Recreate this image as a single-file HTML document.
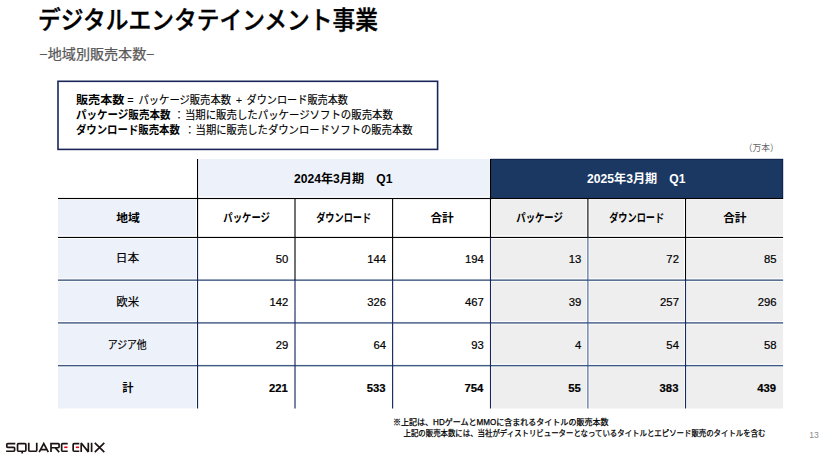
<!DOCTYPE html>
<html lang="ja"><head><meta charset="utf-8"><title>デジタルエンタテインメント事業 −地域別販売本数−</title><style>
html,body{margin:0;padding:0;background:#fff}
body{width:829px;height:463px;position:relative;overflow:hidden;font-family:"Liberation Sans",sans-serif;color:#000}
.abs{position:absolute;margin:0;padding:0}
svg.t{position:absolute;left:0;top:0;overflow:visible;display:block}
svg.t text{font-family:"Liberation Sans","Noto Sans CJK JP",sans-serif}
h1,h2{font-size:0;font-weight:normal}
.grid{position:absolute;left:0;top:0}
.cell{position:absolute;box-sizing:border-box}
path{vector-effect:non-scaling-stroke}
.num{font-size:11.3px;line-height:1;text-align:right;display:flex;align-items:center;justify-content:flex-end;padding-right:6.6px;padding-top:2.4px;-webkit-text-stroke:0.2px #000}
.num.b{font-weight:bold;padding-right:7.1px}
.pageno{font-size:8.6px;line-height:12px;color:#8c8c8c;text-align:center}
</style></head><body>

<h1 class="abs title" style="left:36px;top:0px;width:360px;height:40px"><svg class="t " viewBox="36 0 360 40" width="360" height="40" role="img" aria-label="デジタルエンタテインメント事業"><title>デジタルエンタテインメント事業</title><text x="38" y="28.6" style="font-size:25px;font-weight:500" fill="#000" stroke="#000" stroke-width="0.4" textLength="340" lengthAdjust="spacingAndGlyphs">デジタルエンタテインメント事業</text></svg></h1>
<h2 class="abs sub" style="left:36px;top:44px;width:130px;height:22px"><svg class="t " viewBox="36 44 130 22" width="130" height="22" role="img" aria-label="−地域別販売本数−"><title>−地域別販売本数−</title><text x="39.5" y="59.4" style="font-size:13.5px" fill="#595959" stroke="#595959" stroke-width="0.25" textLength="115" lengthAdjust="spacingAndGlyphs">−地域別販売本数−</text></svg></h2>
<div class="abs defbox" style="left:0.00px;top:0.00px;width:829.00px;height:463.00px"><svg class="t " viewBox="0 0 829 463" width="829" height="463" role="img" aria-label="販売本数＝パッケージ販売本数＋ダウンロード販売本数 / パッケージ販売本数：当期に販売したパッケージソフトの販売本数 / ダウンロード販売本数：当期に販売したダウンロードソフトの販売本数"><title>販売本数＝パッケージ販売本数＋ダウンロード販売本数 / パッケージ販売本数：当期に販売したパッケージソフトの販売本数 / ダウンロード販売本数：当期に販売したダウンロードソフトの販売本数</title><rect x="58.00" y="81.30" width="379.60" height="68.10" fill="none" stroke="#1a265a" stroke-width="1.60"/>
<text x="75.9" y="104.39" font-size="11.5" font-weight="bold" fill="#000" textLength="48.5" lengthAdjust="spacingAndGlyphs">販売本数</text>
<text x="127.3" y="104.39" font-size="11" fill="#000">=</text>
<text x="138.5" y="104.39" font-size="11" fill="#000" stroke="#000" stroke-width="0.15" textLength="92.5" lengthAdjust="spacingAndGlyphs">パッケージ販売本数</text>
<text x="235.8" y="104.39" font-size="11" fill="#000">+</text>
<text x="246.5" y="104.39" font-size="11" fill="#000" stroke="#000" stroke-width="0.15" textLength="101.5" lengthAdjust="spacingAndGlyphs">ダウンロード販売本数</text>
<text x="75.9" y="119.28" font-size="11.5" font-weight="bold" fill="#000" textLength="94.6" lengthAdjust="spacingAndGlyphs">パッケージ販売本数</text>
<text x="173.5" y="119.28" font-size="11" fill="#000">：</text>
<text x="184.9" y="119.28" font-size="11" fill="#000" stroke="#000" stroke-width="0.15" textLength="208" lengthAdjust="spacingAndGlyphs">当期に販売したパッケージソフトの販売本数</text>
<text x="75.9" y="134.48" font-size="11.5" font-weight="bold" fill="#000" textLength="104" lengthAdjust="spacingAndGlyphs">ダウンロード販売本数</text>
<text x="184.3" y="134.48" font-size="11" fill="#000">：</text>
<text x="195.6" y="134.48" font-size="11" fill="#000" stroke="#000" stroke-width="0.15" textLength="217" lengthAdjust="spacingAndGlyphs">当期に販売したダウンロードソフトの販売本数</text>
</svg></div>
<div class="abs unit" style="left:740px;top:141px;width:44px;height:14px"><svg class="t " viewBox="740 141 44 14" width="44" height="14" role="img" aria-label="（万本）"><title>（万本）</title><text x="743.7" y="150.87" font-size="9" fill="#666" textLength="35" lengthAdjust="spacingAndGlyphs">（万本）</text></svg></div>
<div class="abs table" style="left:0;top:0;width:829px;height:463px">
<svg class="grid" viewBox="0 0 829 463" width="829" height="463"><rect x="199.05" y="159.00" width="289.95" height="37.60" fill="#edf2fa"/><rect x="490.50" y="159.00" width="292.60" height="39.50" fill="#1b3862"/><rect x="490.50" y="158.80" width="292.60" height="0.80" fill="#0b1d49"/><rect x="782.30" y="159.00" width="0.80" height="39.50" fill="#0b1d49"/><rect x="58.00" y="200.00" width="138.05" height="35.55" fill="#edf2fa"/><rect x="58.00" y="238.95" width="138.05" height="39.30" fill="#edf2fa"/><rect x="58.00" y="281.65" width="138.05" height="39.35" fill="#edf2fa"/><rect x="58.00" y="324.40" width="138.05" height="39.35" fill="#edf2fa"/><rect x="58.00" y="367.15" width="138.05" height="41.35" fill="#edf2fa"/><rect x="492.00" y="200.00" width="94.40" height="35.55" fill="#eeeeee"/><rect x="589.40" y="200.00" width="94.65" height="35.55" fill="#eeeeee"/><rect x="687.05" y="200.00" width="96.05" height="35.55" fill="#eeeeee"/><rect x="492.00" y="238.95" width="94.40" height="39.30" fill="#eeeeee"/><rect x="589.40" y="238.95" width="94.65" height="39.30" fill="#eeeeee"/><rect x="687.05" y="238.95" width="96.05" height="39.30" fill="#eeeeee"/><rect x="492.00" y="281.65" width="94.40" height="39.35" fill="#eeeeee"/><rect x="589.40" y="281.65" width="94.65" height="39.35" fill="#eeeeee"/><rect x="687.05" y="281.65" width="96.05" height="39.35" fill="#eeeeee"/><rect x="492.00" y="324.40" width="94.40" height="39.35" fill="#eeeeee"/><rect x="589.40" y="324.40" width="94.65" height="39.35" fill="#eeeeee"/><rect x="687.05" y="324.40" width="96.05" height="39.35" fill="#eeeeee"/><rect x="492.00" y="367.15" width="94.40" height="41.35" fill="#eeeeee"/><rect x="589.40" y="367.15" width="94.65" height="41.35" fill="#eeeeee"/><rect x="687.05" y="367.15" width="96.05" height="41.35" fill="#eeeeee"/><rect x="58.00" y="197.95" width="725.10" height="1.10" fill="#000"/><rect x="58.00" y="236.90" width="725.10" height="1.10" fill="#000"/><rect x="58.00" y="279.45" width="725.10" height="1.40" fill="#3f5980"/><rect x="58.00" y="322.20" width="725.10" height="1.40" fill="#3f5980"/><rect x="58.00" y="364.95" width="725.10" height="1.40" fill="#3f5980"/><rect x="197.00" y="159.00" width="1.10" height="78.45" fill="#000"/><rect x="197.00" y="237.45" width="1.10" height="171.05" fill="#16245c"/><rect x="294.45" y="198.50" width="1.10" height="81.65" fill="#000"/><rect x="294.43" y="280.15" width="1.15" height="128.35" fill="#172b5e"/><rect x="392.05" y="198.50" width="1.10" height="81.65" fill="#000"/><rect x="392.03" y="280.15" width="1.15" height="128.35" fill="#172b5e"/><rect x="489.95" y="159.00" width="1.10" height="78.45" fill="#000"/><rect x="489.95" y="237.45" width="1.10" height="171.05" fill="#16245c"/><rect x="587.35" y="198.50" width="1.10" height="38.95" fill="#000"/><rect x="587.35" y="237.45" width="1.10" height="171.05" fill="#3f5f90"/><rect x="685.00" y="198.50" width="1.10" height="81.65" fill="#000"/><rect x="684.97" y="280.15" width="1.15" height="128.35" fill="#172b5e"/></svg>
<div class="cell th" style="left:197.55px;top:159.00px;width:292.95px;height:39.50px"><svg class="t " viewBox="197.55 159 292.95 39.5" width="292.95" height="39.5" role="img" aria-label="2024年3月期　Q1"><title>2024年3月期　Q1</title><text x="293.5" y="182.63" font-size="12" font-weight="bold" fill="#000" textLength="98.5" lengthAdjust="spacingAndGlyphs">2024年3月期　Q1</text></svg></div>
<div class="cell th" style="left:490.50px;top:159.00px;width:292.60px;height:39.50px"><svg class="t " viewBox="490.5 159 292.6 39.5" width="292.6" height="39.5" role="img" aria-label="2025年3月期　Q1"><title>2025年3月期　Q1</title><text x="586.5" y="182.63" font-size="12" font-weight="bold" fill="#fff" textLength="98.5" lengthAdjust="spacingAndGlyphs">2025年3月期　Q1</text></svg></div>
<div class="cell th" style="left:58.00px;top:198.50px;width:139.55px;height:38.95px"><svg class="t " viewBox="58 198.5 139.55 38.95" width="139.55" height="38.95" role="img" aria-label="地域"><title>地域</title><text x="116.25" y="221.84" font-size="11.7" font-weight="bold" fill="#000" textLength="23.6" lengthAdjust="spacingAndGlyphs">地域</text></svg></div>
<div class="cell th" style="left:197.55px;top:198.50px;width:97.45px;height:38.95px"><svg class="t " viewBox="197.55 198.5 97.45 38.95" width="97.45" height="38.95" role="img" aria-label="パッケージ"><title>パッケージ</title><text x="222.9" y="221.84" font-size="11.7" font-weight="bold" fill="#000" textLength="46.6" lengthAdjust="spacingAndGlyphs">パッケージ</text></svg></div>
<div class="cell th" style="left:295.00px;top:198.50px;width:97.60px;height:38.95px"><svg class="t " viewBox="295 198.5 97.6 38.95" width="97.6" height="38.95" role="img" aria-label="ダウンロード"><title>ダウンロード</title><text x="316.2" y="221.84" font-size="11.7" font-weight="bold" fill="#000" textLength="55" lengthAdjust="spacingAndGlyphs">ダウンロード</text></svg></div>
<div class="cell th" style="left:392.60px;top:198.50px;width:97.90px;height:38.95px"><svg class="t " viewBox="392.6 198.5 97.9 38.95" width="97.9" height="38.95" role="img" aria-label="合計"><title>合計</title><text x="430" y="221.84" font-size="11.7" font-weight="bold" fill="#000" textLength="23.4" lengthAdjust="spacingAndGlyphs">合計</text></svg></div>
<div class="cell th" style="left:490.50px;top:198.50px;width:97.40px;height:38.95px"><svg class="t " viewBox="490.5 198.5 97.4 38.95" width="97.4" height="38.95" role="img" aria-label="パッケージ"><title>パッケージ</title><text x="515.8" y="221.84" font-size="11.7" font-weight="bold" fill="#000" textLength="46.6" lengthAdjust="spacingAndGlyphs">パッケージ</text></svg></div>
<div class="cell th" style="left:587.90px;top:198.50px;width:97.65px;height:38.95px"><svg class="t " viewBox="587.9 198.5 97.65 38.95" width="97.65" height="38.95" role="img" aria-label="ダウンロード"><title>ダウンロード</title><text x="609.1" y="221.84" font-size="11.7" font-weight="bold" fill="#000" textLength="55" lengthAdjust="spacingAndGlyphs">ダウンロード</text></svg></div>
<div class="cell th" style="left:685.55px;top:198.50px;width:97.55px;height:38.95px"><svg class="t " viewBox="685.55 198.5 97.55 38.95" width="97.55" height="38.95" role="img" aria-label="合計"><title>合計</title><text x="722.7" y="221.84" font-size="11.7" font-weight="bold" fill="#000" textLength="23.4" lengthAdjust="spacingAndGlyphs">合計</text></svg></div>
<div class="cell th" style="left:58.00px;top:237.45px;width:139.55px;height:42.70px"><svg class="t " viewBox="58 237.45 139.55 42.7" width="139.55" height="42.7" role="img" aria-label="日本"><title>日本</title><text x="115.85" y="262.77" font-size="11.5" fill="#000" stroke="#000" stroke-width="0.2" textLength="23.3" lengthAdjust="spacingAndGlyphs">日本</text></svg></div>
<div class="cell num" style="left:197.55px;top:237.45px;width:97.45px;height:42.70px"><span>50</span></div>
<div class="cell num" style="left:295.00px;top:237.45px;width:97.60px;height:42.70px"><span>144</span></div>
<div class="cell num" style="left:392.60px;top:237.45px;width:97.90px;height:42.70px"><span>194</span></div>
<div class="cell num" style="left:490.50px;top:237.45px;width:97.40px;height:42.70px"><span>13</span></div>
<div class="cell num" style="left:587.90px;top:237.45px;width:97.65px;height:42.70px"><span>72</span></div>
<div class="cell num" style="left:685.55px;top:237.45px;width:97.55px;height:42.70px"><span>85</span></div>
<div class="cell th" style="left:58.00px;top:280.15px;width:139.55px;height:42.75px"><svg class="t " viewBox="58 280.15 139.55 42.75" width="139.55" height="42.75" role="img" aria-label="欧米"><title>欧米</title><text x="116.3" y="305.86" font-size="11.5" fill="#000" stroke="#000" stroke-width="0.2" textLength="22.9" lengthAdjust="spacingAndGlyphs">欧米</text></svg></div>
<div class="cell num" style="left:197.55px;top:280.15px;width:97.45px;height:42.75px"><span>142</span></div>
<div class="cell num" style="left:295.00px;top:280.15px;width:97.60px;height:42.75px"><span>326</span></div>
<div class="cell num" style="left:392.60px;top:280.15px;width:97.90px;height:42.75px"><span>467</span></div>
<div class="cell num" style="left:490.50px;top:280.15px;width:97.40px;height:42.75px"><span>39</span></div>
<div class="cell num" style="left:587.90px;top:280.15px;width:97.65px;height:42.75px"><span>257</span></div>
<div class="cell num" style="left:685.55px;top:280.15px;width:97.55px;height:42.75px"><span>296</span></div>
<div class="cell th" style="left:58.00px;top:322.90px;width:139.55px;height:42.75px"><svg class="t " viewBox="58 322.9 139.55 42.75" width="139.55" height="42.75" role="img" aria-label="アジア他"><title>アジア他</title><text x="107.7" y="348.79" font-size="11" fill="#000" stroke="#000" stroke-width="0.2" textLength="39" lengthAdjust="spacingAndGlyphs">アジア他</text></svg></div>
<div class="cell num" style="left:197.55px;top:322.90px;width:97.45px;height:42.75px"><span>29</span></div>
<div class="cell num" style="left:295.00px;top:322.90px;width:97.60px;height:42.75px"><span>64</span></div>
<div class="cell num" style="left:392.60px;top:322.90px;width:97.90px;height:42.75px"><span>93</span></div>
<div class="cell num" style="left:490.50px;top:322.90px;width:97.40px;height:42.75px"><span>4</span></div>
<div class="cell num" style="left:587.90px;top:322.90px;width:97.65px;height:42.75px"><span>54</span></div>
<div class="cell num" style="left:685.55px;top:322.90px;width:97.55px;height:42.75px"><span>58</span></div>
<div class="cell th" style="left:58.00px;top:365.65px;width:139.55px;height:42.85px"><svg class="t " viewBox="58 365.65 139.55 42.85" width="139.55" height="42.85" role="img" aria-label="計"><title>計</title><text x="122.2" y="391.47" font-size="11.3" font-weight="bold" fill="#000">計</text></svg></div>
<div class="cell num b" style="left:197.55px;top:365.65px;width:97.45px;height:42.85px"><span>221</span></div>
<div class="cell num b" style="left:295.00px;top:365.65px;width:97.60px;height:42.85px"><span>533</span></div>
<div class="cell num b" style="left:392.60px;top:365.65px;width:97.90px;height:42.85px"><span>754</span></div>
<div class="cell num b" style="left:490.50px;top:365.65px;width:97.40px;height:42.85px"><span>55</span></div>
<div class="cell num b" style="left:587.90px;top:365.65px;width:97.65px;height:42.85px"><span>383</span></div>
<div class="cell num b" style="left:685.55px;top:365.65px;width:97.55px;height:42.85px"><span>439</span></div>
</div>
<div class="abs foot" style="left:390px;top:414px;width:385px;height:26px"><svg class="t " viewBox="390 414 385 26" width="385" height="26" role="img" aria-label="※上記は、HDゲームとMMOに含まれるタイトルの販売本数 上記の販売本数には、当社がディストリビューターとなっているタイトルとエピソード販売のタイトルを含む"><title>※上記は、HDゲームとMMOに含まれるタイトルの販売本数 上記の販売本数には、当社がディストリビューターとなっているタイトルとエピソード販売のタイトルを含む</title><text x="393" y="424.94" font-size="8.2" fill="#000" stroke="#000" stroke-width="0.25" textLength="215.5" lengthAdjust="spacingAndGlyphs">※上記は、HDゲームとMMOに含まれるタイトルの販売本数</text><text x="403.5" y="435.94" font-size="8.2" fill="#000" stroke="#000" stroke-width="0.25" textLength="362" lengthAdjust="spacingAndGlyphs">上記の販売本数には、当社がディストリビューターとなっているタイトルとエピソード販売のタイトルを含む</text></svg></div>
<svg class="abs logo" style="left:0px;top:436px" width="112" height="24" viewBox="0 436 112 24" role="img" aria-label="SQUARE ENIX"><title>SQUARE ENIX</title><g fill="none" stroke="#1c1412" stroke-width="1.7" stroke-linejoin="miter" stroke-linecap="butt"><path d="M15.3 443.55H7.7Q6.8 443.55 6.8 444.45V446.5Q6.8 447.4 7.7 447.4H13.7Q14.6 447.4 14.6 448.3V450.35Q14.6 451.25 13.7 451.25H6.1"/><path d="M18.45 443.55H24.95Q25.85 443.55 25.85 444.45V450.35Q25.85 451.25 24.95 451.25H18.45Q17.55 451.25 17.55 450.35V444.45Q17.55 443.55 18.45 443.55ZM22.2 451.25V453.5"/><path d="M28.75 442.8V450.35Q28.75 451.25 29.65 451.25H35.85Q36.75 451.25 36.75 450.35V442.8"/><path d="M39.2 452.05L43.75 443.6L48.3 452.05M41.1 449.6H46.4"/><path d="M51 452.05V443.55H58.2Q59.1 443.55 59.1 444.45V446.85Q59.1 447.75 58.2 447.75H51M55.2 447.75L59.2 452.05"/><path d="M67.7 443.55H62.55Q61.65 443.55 61.65 444.45V450.35Q61.65 451.25 62.55 451.25H67.7"/><path d="M79.3 443.55H74.05Q73.15 443.55 73.15 444.45V450.35Q73.15 451.25 74.05 451.25H79.3"/><path stroke-linejoin="bevel" d="M81.2 452.05V443L88.3 451.85V442.8"/><path d="M91.6 442.8V452.05"/><path d="M94.8 442.8L104.3 452.05M104.3 442.8L94.8 452.05"/></g><rect x="64.2" y="446.5" width="3.3" height="1.6" fill="#e60012"/><rect x="75.8" y="446.5" width="3.2" height="1.6" fill="#e60012"/>
</svg>
<div class="abs pageno" style="left:802px;top:428.5px;width:24px;height:12px">13</div>
</body></html>
